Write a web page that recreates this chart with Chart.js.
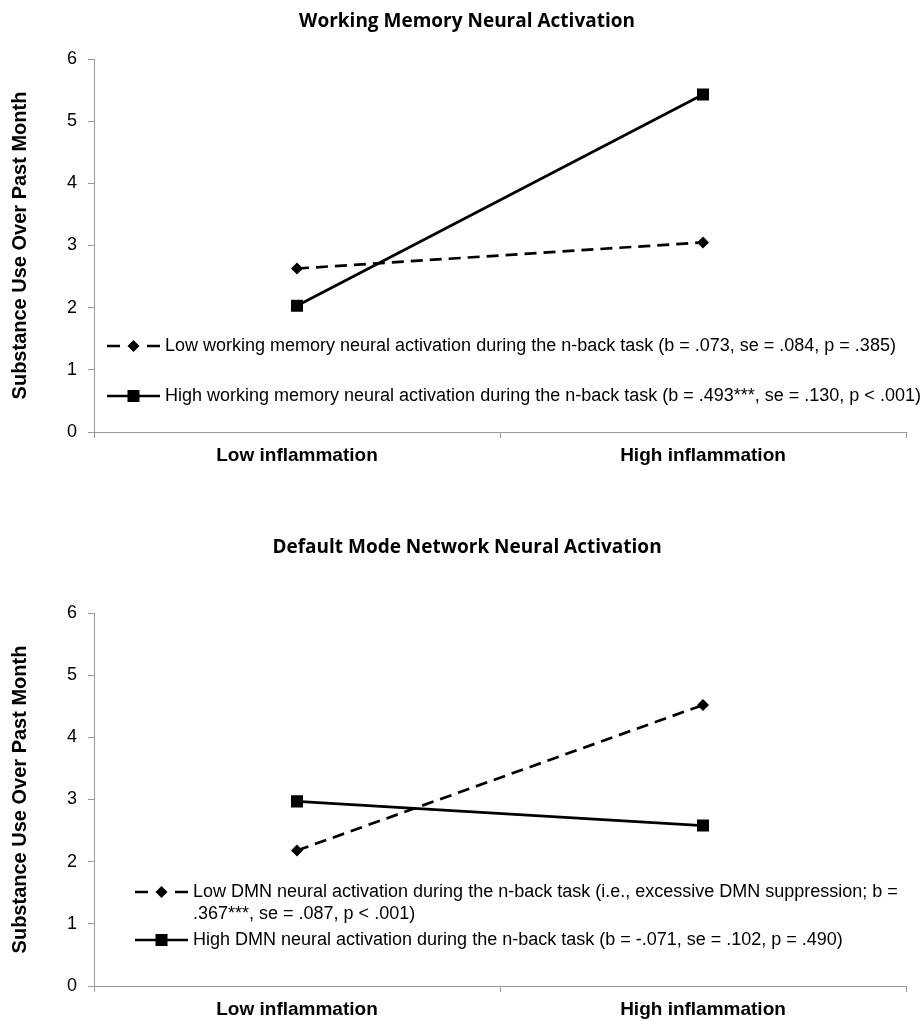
<!DOCTYPE html>
<html>
<head>
<meta charset="utf-8">
<title>Inflammation x neural activation</title>
<script src="https://cdn.jsdelivr.net/npm/chart.js@4.4.1/dist/chart.umd.min.js"></script>
<style>
  body { margin: 0; background: #fff; }
  .wrap { position: relative; width: 921px; }
</style>
</head>
<body>
<div class="wrap" style="height:490px"><canvas id="wmChart"></canvas></div>
<div class="wrap" style="height:531px"><canvas id="dmnChart"></canvas></div>

<script>
// Categories on the x axis
const categories = ['Low inflammation', 'High inflammation'];

// Working memory panel
const wmTitle = 'Working Memory Neural Activation';
const wmLowActivation = [2.63, 3.05];
const wmHighActivation = [2.03, 5.43];
const wmLegend = [
  ['Low working memory neural activation during the n-back task (b = .073, se = .084, p = .385)'],
  ['High working memory neural activation during the n-back task (b = .493***, se = .130, p < .001)']
];

// Default mode network panel
const dmnTitle = 'Default Mode Network Neural Activation';
const dmnLowActivation = [2.18, 4.52];
const dmnHighActivation = [2.97, 2.58];
const dmnLegend = [
  ['Low DMN neural activation during the n-back task (i.e., excessive DMN suppression; b =',
   '.367***, se = .087, p < .001)'],
  ['High DMN neural activation during the n-back task (b = -.071, se = .102, p = .490)']
];

const yAxisTitle = 'Substance Use Over Past Month';
const yMin = 0, yMax = 6, yStep = 1;

const axisGrey = '#9a9a9a';

// Draws the panel title and the in-plot legend
const panelDecor = {
  id: 'panelDecor',
  afterDraw(chart, args, opts) {
    const ctx = chart.ctx;
    ctx.save();

    // title
    ctx.fillStyle = '#000';
    ctx.font = 'bold 19px "Open Sans"';
    ctx.textAlign = 'center';
    ctx.textBaseline = 'middle';
    ctx.fillText(opts.title, opts.titleX, opts.titleY);

    // legend
    ctx.font = '18px "Liberation Sans", Arial';
    ctx.textAlign = 'left';
    chart.data.datasets.forEach((ds, i) => {
      const y = opts.rows[i];
      const x0 = opts.legendX;
      ctx.strokeStyle = '#000';
      ctx.lineWidth = 2.5;
      ctx.setLineDash(ds.borderDash && ds.borderDash.length ? [13, 27] : []);
      ctx.beginPath();
      ctx.moveTo(x0, y);
      ctx.lineTo(x0 + 53, y);
      ctx.stroke();
      ctx.setLineDash([]);

      const cx = x0 + 26.5;
      ctx.fillStyle = '#000';
      ctx.beginPath();
      if (ds.pointStyle === 'rectRot') {
        ctx.moveTo(cx, y - 6);
        ctx.lineTo(cx + 6, y);
        ctx.lineTo(cx, y + 6);
        ctx.lineTo(cx - 6, y);
      } else {
        ctx.rect(cx - 6, y - 6, 12, 12);
      }
      ctx.closePath();
      ctx.fill();

      ds.legendText.forEach((line, k) => {
        ctx.fillText(line, x0 + 58, y + k * opts.wrapGap);
      });
    });
    ctx.restore();
  }
};

function makePanel(canvasId, title, lowData, highData, legendText, layout) {
  const ctx = document.getElementById(canvasId).getContext('2d');
  return new Chart(ctx, {
    type: 'line',
    data: {
      labels: categories,
      datasets: [
        {
          label: legendText[0].join(' '),
          legendText: legendText[0],
          data: lowData,
          borderColor: '#000',
          backgroundColor: '#000',
          borderWidth: 2.7,
          borderDash: [12, 7],
          pointStyle: 'rectRot',
          pointRadius: 6,
          pointBorderWidth: 0,
          pointBackgroundColor: '#000',
          fill: false,
          tension: 0
        },
        {
          label: legendText[1].join(' '),
          legendText: legendText[1],
          data: highData,
          borderColor: '#000',
          backgroundColor: '#000',
          borderWidth: 2.7,
          pointStyle: 'rect',
          pointRadius: 8.5,
          pointBorderWidth: 0,
          pointBackgroundColor: '#000',
          fill: false,
          tension: 0
        }
      ]
    },
    options: {
      responsive: true,
      maintainAspectRatio: false,
      animation: false,
      layout: {
        padding: { top: layout.plotTop, right: 15, left: 0, bottom: 0 }
      },
      plugins: {
        legend: { display: false },
        title: { display: false },
        tooltip: { enabled: false },
        panelDecor: {
          title: title,
          titleX: 467,
          titleY: layout.titleY,
          legendX: layout.legendX,
          rows: layout.rows,
          wrapGap: 22
        }
      },
      scales: {
        x: {
          type: 'category',
          offset: true,
          grid: {
            offset: true,
            drawOnChartArea: false,
            drawTicks: true,
            tickLength: 6,
            color: axisGrey
          },
          border: { display: true, color: axisGrey, width: 1 },
          ticks: {
            color: '#000',
            font: { family: '"Liberation Sans", Arial', size: 19, weight: 'bold' },
            padding: 6,
            maxRotation: 0
          },
          afterFit(scale) { scale.height = layout.xAxisHeight; }
        },
        y: {
          min: yMin,
          max: yMax,
          grid: {
            drawOnChartArea: false,
            drawTicks: true,
            tickLength: 6,
            color: axisGrey
          },
          border: { display: true, color: axisGrey, width: 1 },
          ticks: {
            stepSize: yStep,
            color: '#000',
            font: { family: '"Liberation Sans", Arial', size: 18 },
            padding: 11
          },
          title: {
            display: true,
            text: yAxisTitle,
            color: '#000',
            font: { family: '"Liberation Sans", Arial', size: 20, weight: 'bold' },
            padding: { top: 8, bottom: 0 }
          },
          afterFit(scale) { scale.width = 94; }
        }
      }
    },
    plugins: [panelDecor]
  });
}

makePanel('wmChart', wmTitle, wmLowActivation, wmHighActivation, wmLegend, {
  plotTop: 59,
  titleY: 22,
  xAxisHeight: 58,
  legendX: 107,
  rows: [346, 396]
});

makePanel('dmnChart', dmnTitle, dmnLowActivation, dmnHighActivation, dmnLegend, {
  plotTop: 123,
  titleY: 58,
  xAxisHeight: 35,
  legendX: 135,
  rows: [402, 450]
});
</script>
</body>
</html>
